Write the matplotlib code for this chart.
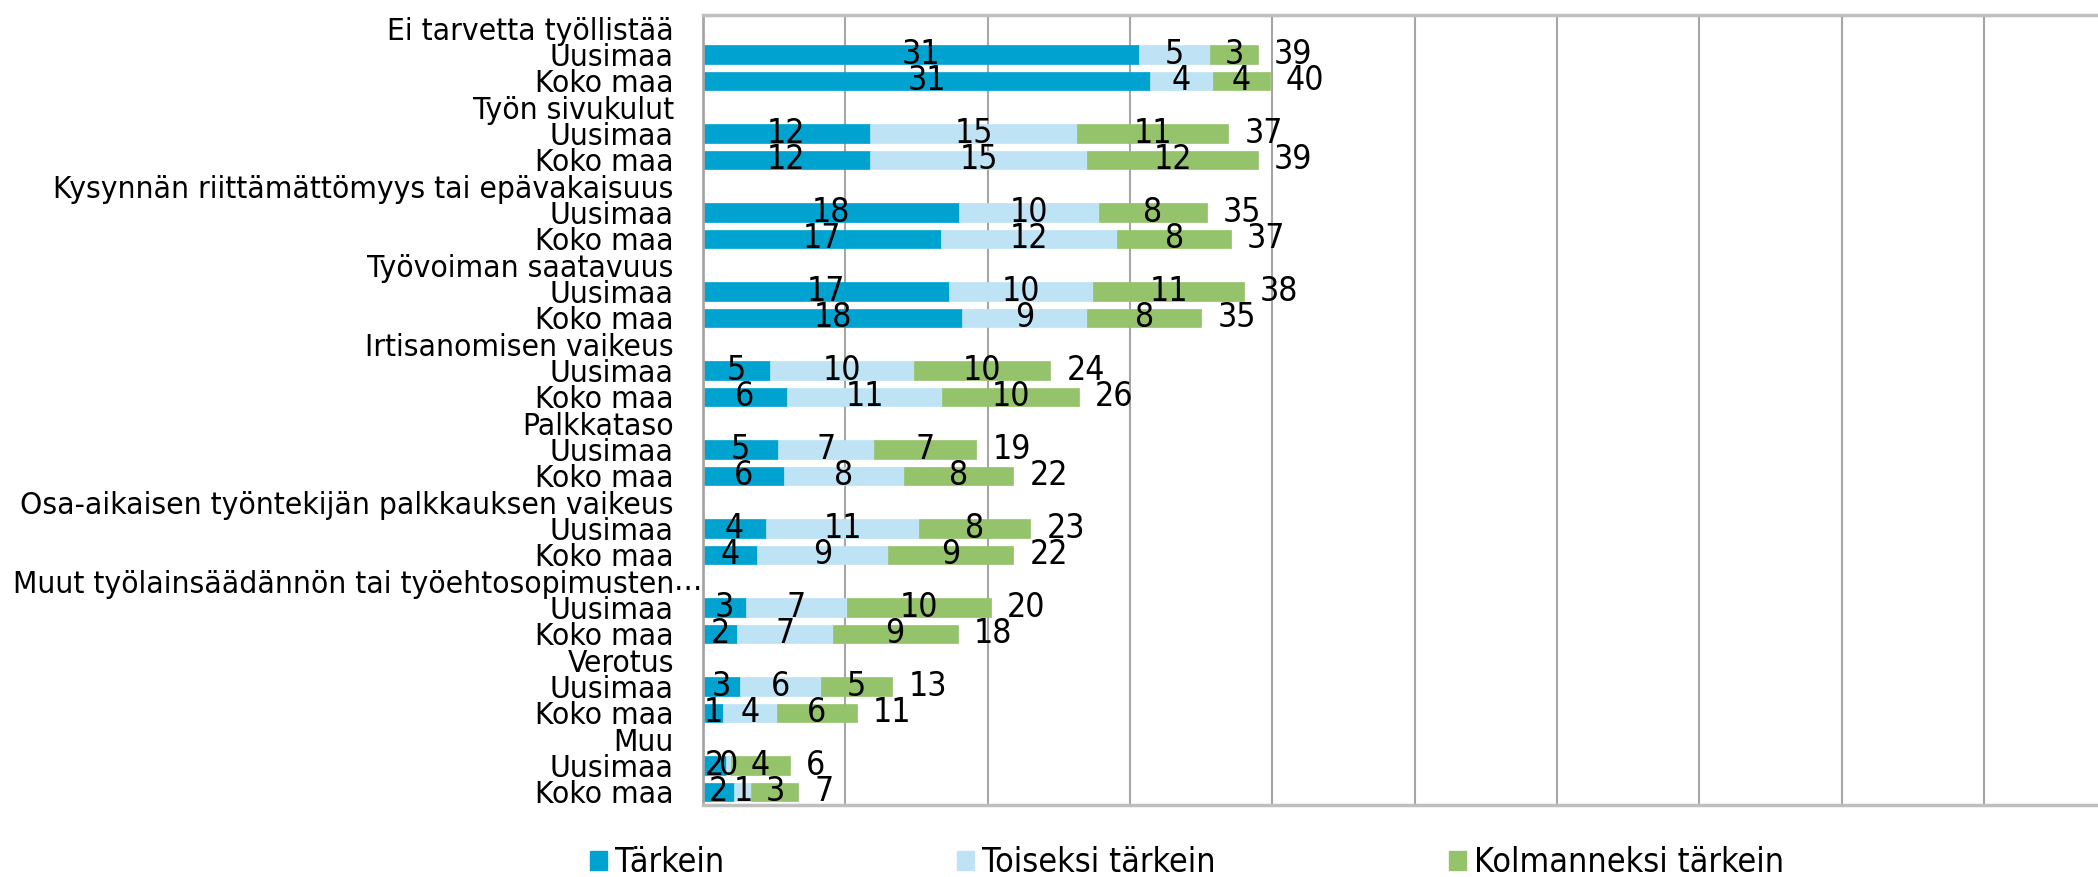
import matplotlib
matplotlib.use("Agg")
import matplotlib.pyplot as plt
from matplotlib.patches import Patch
from matplotlib import transforms
from matplotlib.font_manager import FontProperties, findfont
import numpy as np

groups = ["Ei tarvetta työllistää", "Työn sivukulut",
          "Kysynnän riittämättömyys tai epävakaisuus", "Työvoiman saatavuus",
          "Irtisanomisen vaikeus", "Palkkataso",
          "Osa-aikaisen työntekijän palkkauksen vaikeus",
          "Muut työlainsäädännön tai työehtosopimusten", "Verotus", "Muu"]
regions = ["Uusimaa", "Koko maa"]
series_names = ["Tärkein", "Toiseksi tärkein", "Kolmanneksi tärkein"]

tarkein = [30.6, 31.4, 11.7, 11.7, 18.0, 16.7, 17.3, 18.2, 4.7, 5.9,
           5.3, 5.7, 4.4, 3.8, 3.0, 2.4, 2.6, 1.4, 1.6, 2.2]
toiseksi = [5.0, 4.4, 14.6, 15.3, 9.8, 12.4, 10.1, 8.8, 10.1, 10.9,
            6.7, 8.4, 10.8, 9.2, 7.1, 6.7, 5.7, 3.8, 0.4, 1.2]
kolmanneksi = [3.4, 4.0, 10.6, 12.0, 7.6, 8.0, 10.6, 8.0, 9.6, 9.6,
               7.2, 7.7, 7.8, 8.8, 10.1, 8.8, 5.0, 5.6, 4.1, 3.3]

colors = ["#00A3D0", "#BEE3F5", "#95C36B"]


# pick the narrowest available font
def pick_font():
    cands = [("Liberation Sans Narrow", "normal"), ("DejaVu Sans", "condensed"),
             ("DejaVu Sans", "normal")]
    for fam, st in cands:
        try:
            f = findfont(FontProperties(family=fam, stretch=st), fallback_to_default=False)
        except Exception:
            continue
        if st == "condensed" and "ondensed" not in f:
            continue
        return fam, st
    return "DejaVu Sans", "normal"


FAM, STRETCH = pick_font()
plt.rcParams['font.family'] = [FAM, 'DejaVu Sans']
plt.rcParams['font.stretch'] = STRETCH

fig = plt.figure(figsize=(20.98, 8.77), dpi=100)

# calibrate the font size so the longest label spans the reference width
probe = fig.text(0, 0, groups[2], fontsize=20)
fig.canvas.draw()
w = probe.get_window_extent().width
probe.remove()
FS = 20 * 618 / w

ax = fig.add_axes([703/2098, 1 - 805/877, 1 - 703/2098, (805 - 15)/877])

labels = []
for g in groups:
    labels.append(g)
    labels.extend(regions)
n = len(labels)

pos = []
for gi in range(len(groups)):
    pos.extend([3 * gi + 1, 3 * gi + 2])
pos = np.array(pos)

data = [np.array(tarkein), np.array(toiseksi), np.array(kolmanneksi)]
left = np.zeros(len(pos))
for vals, col, name in zip(data, colors, series_names):
    ax.barh(pos, vals, left=left, height=0.7, color=col, label=name,
            edgecolor=col, linewidth=0.5, zorder=2)
    for y, l, v in zip(pos, left, vals):
        ax.text(l + v / 2, y, f"{v:.0f}", ha="center", va="center",
                fontsize=FS * 1.07, color="black", zorder=4)
    left = left + vals

offset = transforms.offset_copy(ax.transData, fig=fig, x=16, y=0, units="dots")
for y, tot in zip(pos, left):
    ax.text(tot, y, f"{tot:.0f}", ha="left", va="center", fontsize=FS * 1.07,
            transform=offset, zorder=4)

ax.set_xlim(0, 98)
ax.set_ylim(n - 0.5, -0.5)
ax.set_xticks(np.arange(0, 100, 10))
ax.set_xticklabels([])
ax.tick_params(axis="x", length=0)
ax.set_yticks(np.arange(n))
ax.set_yticklabels(labels, fontsize=FS)
ax.tick_params(axis="y", length=0, pad=21)
ax.grid(axis="x", color="#A6A6A6", linewidth=1.5, zorder=0)
ax.set_axisbelow(True)

for s in ["top", "bottom"]:
    ax.spines[s].set_color("#BFBFBF")
    ax.spines[s].set_linewidth(2.5)
ax.spines["left"].set_color("#A6A6A6")
ax.spines["left"].set_linewidth(2)
ax.spines["right"].set_visible(False)

# ellipsis overflowing the truncated category label
muut_idx = labels.index(groups[7])
ell = transforms.offset_copy(ax.get_yaxis_transform(), fig=fig, x=-29, y=0, units="dots")
ax.text(0, muut_idx, "…", ha="left", va="center", fontsize=FS, transform=ell)

handles = [Patch(facecolor=c, edgecolor=c) for c in colors]
LFS = FS * 1.08
fs_px = LFS * 100 / 72
fig.legend(handles, series_names, loc="center left", bbox_to_anchor=(590/2098, 1 - 863/877),
           ncol=3, frameon=False, fontsize=LFS, handlelength=17/fs_px, handleheight=17/fs_px,
           handletextpad=8/fs_px, columnspacing=233/fs_px, borderpad=0, borderaxespad=0)

fig.savefig("out.png", dpi=100)
